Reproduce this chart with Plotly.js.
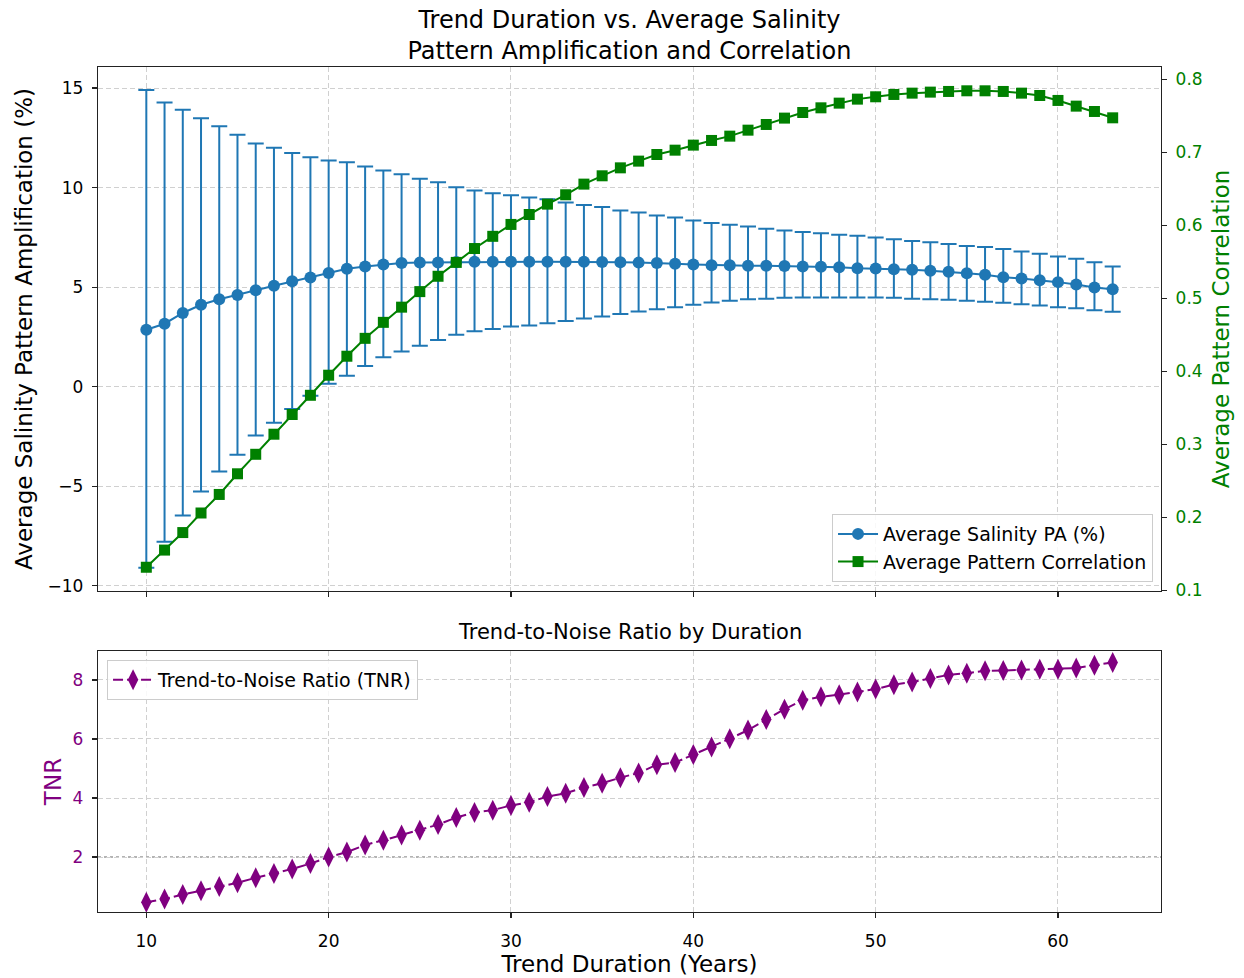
<!DOCTYPE html>
<html>
<head>
<meta charset="utf-8">
<script src="https://cdn.plot.ly/plotly-3.0.1.min.js"></script>
<style>html,body{margin:0;padding:0;background:#fff;}#chart{width:1244px;height:978px;}</style>
</head>
<body>
<div id="chart"></div>
<script>
// ---- data ----
const years = [10,11,12,13,14,15,16,17,18,19,20,21,22,23,24,25,26,27,28,29,30,31,32,33,34,35,36,37,38,39,40,41,42,43,44,45,46,47,48,49,50,51,52,53,54,55,56,57,58,59,60,61,62,63];
const paMean = [2.86,3.16,3.70,4.11,4.39,4.60,4.84,5.07,5.29,5.48,5.71,5.92,6.04,6.14,6.21,6.23,6.24,6.26,6.27,6.27,6.27,6.27,6.27,6.27,6.27,6.26,6.25,6.23,6.21,6.17,6.13,6.10,6.10,6.07,6.07,6.06,6.03,6.02,6.00,5.95,5.93,5.90,5.87,5.82,5.77,5.70,5.62,5.50,5.43,5.35,5.25,5.13,4.98,4.89];
const paUpper = [14.91,14.27,13.91,13.49,13.08,12.66,12.21,12.00,11.74,11.53,11.36,11.27,11.06,10.86,10.67,10.44,10.27,10.02,9.85,9.71,9.62,9.50,9.42,9.25,9.12,9.02,8.85,8.75,8.60,8.50,8.35,8.22,8.13,8.05,7.93,7.85,7.77,7.70,7.63,7.58,7.49,7.41,7.32,7.26,7.17,7.07,7.01,6.91,6.79,6.67,6.54,6.42,6.25,6.03];
const paLower = [-9.10,-7.80,-6.48,-5.27,-4.26,-3.43,-2.46,-1.82,-1.12,-0.46,0.14,0.54,1.04,1.48,1.77,2.05,2.34,2.60,2.78,2.90,3.02,3.07,3.18,3.30,3.42,3.52,3.65,3.77,3.89,3.99,4.11,4.22,4.32,4.39,4.42,4.46,4.48,4.48,4.48,4.48,4.48,4.46,4.42,4.39,4.36,4.31,4.26,4.21,4.14,4.07,3.99,3.94,3.84,3.76];
const corr = [0.1315,0.155,0.179,0.2058,0.2312,0.2595,0.2862,0.3137,0.3407,0.367,0.3945,0.4205,0.445,0.4669,0.4877,0.509,0.530,0.549,0.568,0.5847,0.601,0.6146,0.6288,0.6416,0.6562,0.6676,0.6785,0.6877,0.6968,0.7027,0.7096,0.716,0.7219,0.7301,0.7379,0.7466,0.7543,0.7607,0.7671,0.7726,0.7758,0.779,0.7808,0.7822,0.7831,0.784,0.784,0.7831,0.7808,0.7776,0.7708,0.763,0.7557,0.747];
const tnr = [0.47,0.58,0.73,0.86,1.00,1.13,1.30,1.44,1.60,1.78,2.00,2.17,2.41,2.57,2.75,2.91,3.10,3.34,3.51,3.59,3.75,3.86,4.05,4.16,4.36,4.50,4.69,4.85,5.13,5.20,5.47,5.73,6.01,6.30,6.66,7.01,7.31,7.43,7.50,7.59,7.69,7.84,7.93,8.05,8.17,8.23,8.31,8.32,8.34,8.36,8.36,8.40,8.50,8.59];
const xTicks = [10,20,30,40,50,60];
const tnrThreshold = 2;

const errUp = paUpper.map((u,i)=>u-paMean[i]);
const errDown = paMean.map((m,i)=>m-paLower[i]);

const BLUE='#1f77b4', GREEN='#008000', PURPLE='#800080';
const FONT='DejaVu Sans, sans-serif';

const traces = [
  {x:years, y:paMean, xaxis:'x2', yaxis:'y', type:'scatter', mode:'lines+markers',
   name:'Average Salinity PA (%)', line:{color:BLUE,width:2},
   marker:{symbol:'circle',size:12,color:BLUE},
   error_y:{type:'data',symmetric:false,array:errUp,arrayminus:errDown,color:BLUE,thickness:2,width:8},
   legend:'legend'},
  {x:years, y:corr, xaxis:'x2', yaxis:'y2', type:'scatter', mode:'lines+markers',
   name:'Average Pattern Correlation', line:{color:GREEN,width:2},
   marker:{symbol:'square',size:11,color:GREEN}, legend:'legend'},
  {x:years, y:tnr, xaxis:'x', yaxis:'y3', type:'scatter', mode:'lines+markers',
   name:'Trend-to-Noise Ratio (TNR)', line:{color:PURPLE,width:2,dash:'10px,4px'},
   marker:{symbol:'diamond-tall',size:15,color:PURPLE}, legend:'legend2'}
];

const gridStyle = {showgrid:true, gridcolor:'#d0d0d0', gridwidth:1, griddash:'5px,3px'};
const axLine = {showline:true, linecolor:'#222', linewidth:1.2, ticks:'outside', ticklen:5, tickwidth:1.2, tickcolor:'#222', zeroline:false};

const layout = {
  width:1244, height:978,
  margin:{l:98, r:83, t:67, b:66},
  paper_bgcolor:'#fff', plot_bgcolor:'#fff',
  font:{family:FONT, size:17, color:'#000'},
  showlegend:true,
  title:{text:'Trend Duration vs. Average Salinity<br>Pattern Amplification and Correlation',
         font:{size:24, family:FONT, color:'#000'}, x:0.506, xanchor:'center', y:1-27.5/978, yanchor:'middle', yref:'container'},
  xaxis:Object.assign({domain:[0,1], anchor:'y3', range:[7.35,65.65], tickvals:xTicks, mirror:true,
    ticklabelstandoff:8, tickfont:{size:17},
    title:{text:'Trend Duration (Years)', font:{size:23}, standoff:3}}, axLine, gridStyle),
  xaxis2:Object.assign({domain:[0,1], anchor:'y', matches:'x', range:[7.35,65.65], tickvals:xTicks, showticklabels:false, mirror:true}, axLine, gridStyle),
  yaxis:Object.assign({domain:[0.3799,1], anchor:'x2', range:[-10.27,16.06], tickvals:[-10,-5,0,5,10,15],
    ticktext:['\u221210','\u22125','0','5','10','15'], ticklabelstandoff:5, tickfont:{size:17},
    title:{text:'Average Salinity Pattern Amplification (%)', font:{size:23}, standoff:8}}, axLine, gridStyle),
  yaxis2:Object.assign({overlaying:'y', side:'right', anchor:'x2', range:[0.099,0.8166], tickvals:[0.1,0.2,0.3,0.4,0.5,0.6,0.7,0.8],
    ticktext:['0.1','0.2','0.3','0.4','0.5','0.6','0.7','0.8'], showgrid:false, ticklabelstandoff:5,
    tickfont:{size:17,color:GREEN},
    title:{text:'Average Pattern Correlation', font:{size:23,color:GREEN}, standoff:11}}, axLine),
  yaxis3:Object.assign({domain:[0,0.3089], anchor:'x', range:[0.14,8.98], tickvals:[2,4,6,8], mirror:true,
    ticklabelstandoff:5, tickfont:{size:17,color:PURPLE},
    title:{text:'TNR', font:{size:23,color:PURPLE}, standoff:4}}, axLine, gridStyle),
  legend:{x:0.9925, xanchor:'right', y:0.3905, yanchor:'bottom', xref:'paper', yref:'paper',
    bgcolor:'rgba(255,255,255,0.85)', bordercolor:'#cccccc', borderwidth:1, font:{size:19}, tracegroupgap:0, itemwidth:40},
  legend2:{x:0.0085, xanchor:'left', y:0.2982, yanchor:'top', xref:'paper', yref:'paper',
    bgcolor:'rgba(255,255,255,0.85)', bordercolor:'#cccccc', borderwidth:1, font:{size:19}, itemwidth:40},
  shapes:[{type:'line', xref:'x domain', x0:0, x1:1, yref:'y3', y0:tnrThreshold, y1:tnrThreshold,
    line:{color:'#9a9a9a', width:1.5, dash:'dot'}, layer:'below'}],
  annotations:[{text:'Trend-to-Noise Ratio by Duration', xref:'paper', yref:'paper', x:0.5, y:0.3089,
    xanchor:'center', yanchor:'bottom', yshift:5, showarrow:false, font:{size:21, family:FONT, color:'#000'}}]
};

Plotly.newPlot('chart', traces, layout, {staticPlot:true, displayModeBar:false});
</script>
</body>
</html>
